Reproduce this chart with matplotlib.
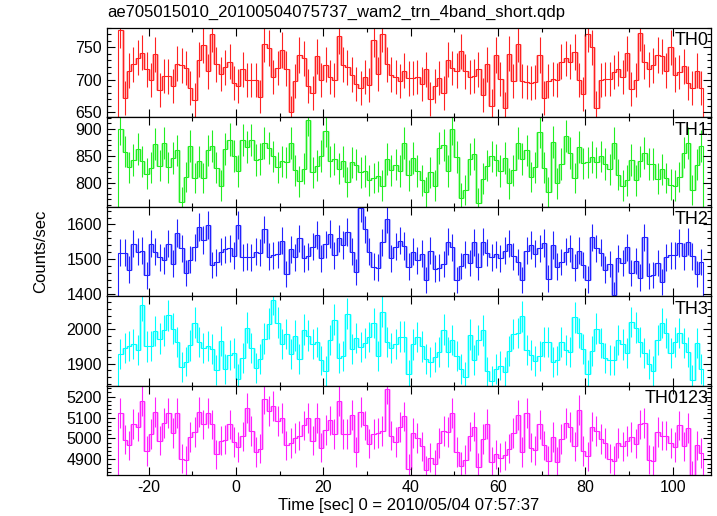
import numpy as np
import matplotlib
matplotlib.use("Agg")
import matplotlib.pyplot as plt
from matplotlib.ticker import MultipleLocator

plt.rcParams['font.family'] = ['Liberation Sans', 'DejaVu Sans']
plt.rcParams['axes.unicode_minus'] = False

# light curve: 1 s bins starting at t = -27 s
t_start = -27
bin_width = 1.0

th0 = [777, 672, 714, 724, 734, 742, 716, 700, 739, 684, 706, 705, 691, 725, 722, 718, 688, 669, 731, 754,
       713, 771, 724, 709, 719, 728, 695, 690, 716, 700, 700, 700, 674, 755, 749, 704, 718, 746, 717, 650,
       698, 738, 733, 690, 679, 736, 700, 723, 704, 700, 767, 723, 719, 708, 693, 687, 704, 692, 762, 709,
       771, 724, 708, 704, 698, 714, 702,
       703, 704, 693, 716, 670, 690, 703, 680, 731, 718, 714, 744, 713, 704, 706, 716, 676, 724, 660, 738,
       701, 656, 740, 698, 755, 698, 697, 695, 696, 738, 672, 698, 701, 700, 728, 733, 728, 743, 700, 678,
       770, 750, 657, 700, 701, 701, 712, 717, 704, 741, 686, 700, 772, 728, 716, 722, 738, 736, 714, 750,
       708, 712, 721, 695, 688, 714, 687]

th1 = [900, 858, 829, 842, 862, 840, 817, 828, 872, 832, 873, 829, 846, 860, 764, 811, 868, 809, 840, 809,
       860, 868, 828, 795, 862, 880, 850, 822, 879, 866, 879, 842, 844, 874, 864, 849, 829, 840, 838, 873,
       823, 803, 826, 917, 820, 832, 850, 896, 840, 844, 826, 840, 802, 838, 834, 820, 822, 805, 809, 812,
       795, 844, 823, 834, 822, 873, 814,
       846, 822, 805, 783, 820, 795, 864, 870, 822, 900, 848, 773, 787, 844, 854, 763, 808, 832, 849, 842,
       822, 846, 799, 823, 874, 844, 860, 811, 829, 894, 828, 783, 876, 799, 835, 886, 855, 809, 866, 836,
       838, 848, 838, 849, 835, 825, 873, 815, 795, 805, 842, 805, 840, 855, 835, 835, 808, 825, 809, 797,
       795, 811, 856, 874, 787, 834, 868]

th2 = [1519, 1519, 1470, 1545, 1521, 1524, 1453, 1545, 1521, 1505, 1497, 1545, 1487, 1576, 1531, 1460,
       1499, 1534, 1592, 1555, 1599, 1483, 1491, 1521, 1528, 1531, 1510, 1599, 1505, 1507, 1505, 1521,
       1518, 1586, 1507, 1512, 1514, 1553, 1457, 1528, 1505, 1560, 1502, 1509, 1536, 1570, 1502, 1543,
       1572, 1512, 1560, 1541, 1579, 1521, 1463, 1647, 1586, 1521, 1478, 1476, 1549, 1615, 1502, 1536,
       1553, 1538, 1478,
       1521, 1497, 1516, 1439, 1524, 1473, 1476, 1486, 1550, 1534, 1439, 1480, 1514, 1489, 1549, 1478,
       1550, 1518, 1505, 1514, 1502, 1524, 1545, 1509, 1492, 1439, 1524, 1541, 1516, 1531, 1547, 1444,
       1541, 1478, 1492, 1521, 1531, 1476, 1524, 1483, 1441, 1563, 1531, 1518, 1470, 1486, 1396, 1502,
       1489, 1534, 1460, 1495, 1447, 1563, 1451, 1454, 1489, 1434, 1505, 1512, 1512, 1547, 1509, 1550,
       1509, 1457, 1492]

th3 = [1928, 1946, 1952, 1958, 1940, 2071, 1950, 1952, 1995, 1973, 1997, 2041, 2002, 1963, 1889, 1906,
       1953, 2020, 1964, 1946, 1952, 1943, 1881, 1966, 1884, 1924, 1931, 1855, 1917, 2005, 1946, 1887,
       1914, 1973, 2017, 2087, 2020, 1958, 1987, 1928, 1982, 1914, 1999, 1982, 1958, 1963, 1909, 1879,
       1970, 2028, 1917, 1921, 2046, 1943, 1975, 1948, 1960, 1977, 2019, 1921, 2052, 1963, 1946, 1958,
       1979, 1979, 1868,
       1956, 1977, 1950, 1914, 1904, 1919, 1933, 1999, 1933, 1970, 1921, 1884, 1860, 1985, 1911, 1968,
       1997, 1877, 1850, 1884, 1894, 1875, 1936, 1987, 1989, 2038, 1940, 1924, 1907, 1921, 1963, 1963,
       1904, 1909, 1963, 1940, 1933, 2036, 1989, 1943, 1868, 1936, 2002, 1960, 1917, 1911, 1909, 1970,
       1956, 1930, 2022, 2005, 1963, 1930, 1899, 1879, 1970, 2019, 1989, 1930, 1963, 1989, 1960, 1933,
       1852, 1960, 1884]

th0123 = [5122, 4994, 4967, 5070, 5057, 5178, 4940, 5022, 5125, 4990, 5073, 5121, 5025, 5121, 4903, 4895,
          5006, 5030, 5125, 5067, 5121, 5067, 4924, 4990, 4994, 5067, 4983, 4959, 5010, 5146, 5035, 4935,
          4951, 5189, 5133, 5157, 5083, 5098, 4967, 4978, 5003, 5014, 5062, 5098, 4990, 5098, 4956, 5041,
          5086, 5022, 5178, 5022, 5022, 5114, 4935, 5125, 5062, 4975, 5022, 5025, 5035, 5237, 5014, 4983,
          5054, 5105, 4856,
          5025, 5003, 4962, 4848, 4908, 4876, 4978, 5035, 5030, 5121, 4935, 4867, 4898, 5010, 5057, 4863,
          4998, 5070, 4887, 4924, 4908, 4919, 4951, 5025, 5114, 4935, 5121, 4956, 4943, 5067, 4967, 4892,
          5006, 4887, 4998, 5073, 5054, 4962, 5137, 4940, 4914, 5057, 5035, 4998, 4978, 4903, 4892, 4978,
          4962, 4987, 5006, 4975, 5067, 5073, 4898, 4892, 5030, 5014, 5014, 4978, 4959, 5062, 4962, 5051,
          4824, 4967, 4930]

bands = ['TH0', 'TH1', 'TH2', 'TH3', 'TH0123']
series = [th0, th1, th2, th3, th0123]
colors = ['#ff2222', '#22ee22', '#2222ff', '#00ffff', '#ff22ff']
ylims = [(642, 780), (756, 921), (1393, 1651), (1835, 2097), (4824, 5252)]
ymajor = [50, 50, 100, 100, 100]
yminor = [10, 10, 20, 20, 20]

fig, axes = plt.subplots(5, 1, sharex=True, figsize=(7.17, 5.16), dpi=100)
fig.subplots_adjust(left=0.149, right=0.992, top=0.946, bottom=0.079, hspace=0)

for ax, name, vals, col, yl, ma, mi in zip(axes, bands, series, colors, ylims, ymajor, yminor):
    vals = np.array(vals, dtype=float)
    edges = t_start + bin_width * np.arange(len(vals) + 1)
    centers = 0.5 * (edges[:-1] + edges[1:])
    err = np.sqrt(vals)

    # soft vertical transitions like the original rendering
    ax.vlines(edges[1:-1], np.minimum(vals[:-1], vals[1:]), np.maximum(vals[:-1], vals[1:]),
              color=col, alpha=0.3, lw=2.2)
    ax.stairs(vals, edges, color=col, lw=0.8)
    ax.errorbar(centers, vals, yerr=err, fmt='none', ecolor=col, elinewidth=0.8, capsize=0)

    ax.set_ylim(*yl)
    ax.yaxis.set_major_locator(MultipleLocator(ma))
    ax.yaxis.set_minor_locator(MultipleLocator(mi))
    ax.xaxis.set_major_locator(MultipleLocator(20))
    ax.xaxis.set_minor_locator(MultipleLocator(10))
    ax.tick_params(which='both', direction='in', top=True, right=True, labelsize=11.5, width=0.8)
    ax.tick_params(which='major', length=6)
    ax.tick_params(which='minor', length=3)
    for s in ax.spines.values():
        s.set_linewidth(0.9)
    ax.text(0.995, 0.95, name, transform=ax.transAxes, ha='right', va='top', fontsize=13)

axes[-1].set_xlim(-29.6, 108.8)
axes[-1].set_xlabel('Time [sec] 0 = 2010/05/04 07:57:37', fontsize=12, labelpad=2)
fig.text(0.056, 0.512, 'Counts/sec', rotation=90, ha='center', va='center', fontsize=12)
fig.text(0.149, 0.962, 'ae705015010_20100504075737_wam2_trn_4band_short.qdp', ha='left', va='bottom', fontsize=12)

plt.savefig('out.png', dpi=100)
